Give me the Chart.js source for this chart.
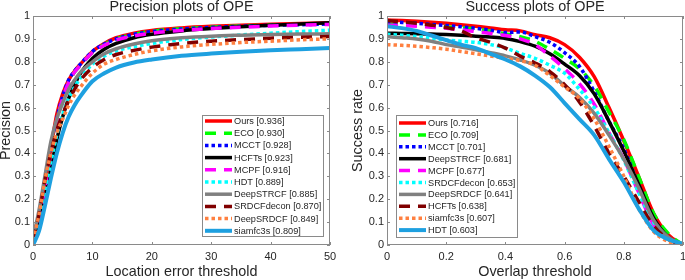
<!DOCTYPE html>
<html>
<head>
<meta charset="utf-8">
<title>OPE plots</title>
<script src="https://cdn.jsdelivr.net/npm/chart.js@4.4.1/dist/chart.umd.min.js"></script>
<style>
    html, body { margin: 0; padding: 0; background: #fff; }
    #wrap { position: relative; width: 685px; height: 280px; overflow: hidden; }
    .pane { position: absolute; top: 0; height: 280px; }
    #pane-prec { left: 0; width: 340px; }
    #pane-succ { left: 340px; width: 345px; }
</style>
</head>
<body>
<div id="wrap">
    <div class="pane" id="pane-prec"><canvas id="prec-chart"></canvas></div>
    <div class="pane" id="pane-succ"><canvas id="succ-chart"></canvas></div>
</div>
<script>
/* Precision / success plots of OPE */

var yTicks = [0, 0.1, 0.2, 0.3, 0.4, 0.5, 0.6, 0.7, 0.8, 0.9, 1];

/* ---- Precision plot (location error threshold, px) ---- */
var precXTicks = [0, 10, 20, 30, 40, 50];
var precX = [0, 1, 2, 3, 4, 5, 6, 7, 8, 10, 12, 14, 17, 20, 25, 30, 35, 40, 45, 50];
var precNames = ["Ours", "ECO", "MCCT", "HCFTs", "MCPF", "HDT", "DeepSTRCF", "SRDCFdecon", "DeepSRDCF", "siamfc3s"];
var precScores = [0.936, 0.930, 0.928, 0.923, 0.916, 0.889, 0.885, 0.870, 0.849, 0.809];
var precOurs       = [0.02, 0.12, 0.27, 0.42, 0.57, 0.66, 0.72, 0.76, 0.79, 0.845, 0.88, 0.905, 0.925, 0.937, 0.948, 0.955, 0.96, 0.964, 0.967, 0.97];
var precECO        = [0.02, 0.11, 0.25, 0.40, 0.54, 0.64, 0.71, 0.755, 0.785, 0.84, 0.875, 0.90, 0.92, 0.933, 0.944, 0.951, 0.956, 0.96, 0.963, 0.966];
var precMCCT       = [0.02, 0.11, 0.25, 0.40, 0.55, 0.65, 0.72, 0.76, 0.79, 0.845, 0.878, 0.90, 0.92, 0.932, 0.943, 0.95, 0.955, 0.959, 0.962, 0.965];
var precHCFTs      = [0.01, 0.09, 0.20, 0.33, 0.46, 0.56, 0.64, 0.70, 0.75, 0.815, 0.855, 0.88, 0.905, 0.92, 0.935, 0.945, 0.953, 0.96, 0.965, 0.97];
var precMCPF       = [0.02, 0.11, 0.25, 0.40, 0.54, 0.64, 0.71, 0.755, 0.785, 0.84, 0.872, 0.895, 0.913, 0.925, 0.937, 0.945, 0.951, 0.956, 0.96, 0.963];
var precHDT        = [0.02, 0.10, 0.23, 0.36, 0.48, 0.57, 0.64, 0.69, 0.73, 0.79, 0.825, 0.848, 0.866, 0.88, 0.897, 0.908, 0.917, 0.925, 0.932, 0.938];
var precDeepSTRCF  = [0.03, 0.15, 0.30, 0.45, 0.55, 0.62, 0.68, 0.72, 0.755, 0.80, 0.835, 0.857, 0.878, 0.892, 0.905, 0.912, 0.916, 0.919, 0.921, 0.922];
var precSRDCFdecon = [0.02, 0.13, 0.28, 0.40, 0.50, 0.57, 0.63, 0.68, 0.72, 0.775, 0.81, 0.832, 0.85, 0.864, 0.88, 0.89, 0.897, 0.903, 0.907, 0.91];
var precDeepSRDCF  = [0.02, 0.13, 0.28, 0.40, 0.49, 0.55, 0.61, 0.655, 0.69, 0.75, 0.79, 0.81, 0.832, 0.848, 0.865, 0.876, 0.884, 0.89, 0.896, 0.90];
var precSiamfc3s   = [0.00, 0.06, 0.17, 0.29, 0.40, 0.49, 0.56, 0.61, 0.65, 0.715, 0.75, 0.775, 0.797, 0.81, 0.826, 0.836, 0.844, 0.85, 0.855, 0.86];
var precSeries = [precOurs, precECO, precMCCT, precHCFTs, precMCPF, precHDT, precDeepSTRCF, precSRDCFdecon, precDeepSRDCF, precSiamfc3s];

/* ---- Success plot (overlap threshold) ---- */
var succXTicks = [0, 0.2, 0.4, 0.6, 0.8, 1];
var succX = [0, 0.05, 0.1, 0.15, 0.2, 0.25, 0.3, 0.35, 0.4, 0.45, 0.5, 0.55, 0.6, 0.65, 0.7, 0.75, 0.8, 0.85, 0.9, 0.95, 1];
var succNames = ["Ours", "ECO", "MCCT", "DeepSTRCF", "MCPF", "SRDCFdecon", "DeepSRDCF", "HCFTs", "siamfc3s", "HDT"];
var succScores = [0.716, 0.709, 0.701, 0.681, 0.677, 0.653, 0.641, 0.638, 0.607, 0.603];
var succOurs       = [0.982, 0.98, 0.977, 0.973, 0.968, 0.962, 0.955, 0.948, 0.94, 0.935, 0.918, 0.905, 0.875, 0.82, 0.735, 0.60, 0.455, 0.30, 0.14, 0.045, 0];
var succECO        = [0.965, 0.963, 0.96, 0.957, 0.953, 0.948, 0.942, 0.933, 0.922, 0.91, 0.89, 0.855, 0.815, 0.77, 0.695, 0.58, 0.46, 0.30, 0.14, 0.05, 0];
var succMCCT       = [0.975, 0.972, 0.968, 0.963, 0.958, 0.953, 0.946, 0.938, 0.928, 0.93, 0.91, 0.885, 0.84, 0.78, 0.67, 0.54, 0.42, 0.26, 0.11, 0.03, 0];
var succDeepSTRCF  = [0.925, 0.924, 0.923, 0.921, 0.919, 0.916, 0.912, 0.908, 0.902, 0.888, 0.868, 0.835, 0.79, 0.74, 0.66, 0.54, 0.41, 0.265, 0.12, 0.035, 0];
var succMCPF       = [0.96, 0.958, 0.955, 0.951, 0.946, 0.94, 0.932, 0.924, 0.915, 0.90, 0.875, 0.825, 0.77, 0.705, 0.615, 0.49, 0.375, 0.23, 0.09, 0.03, 0];
var succSRDCFdecon = [0.92, 0.916, 0.91, 0.903, 0.895, 0.89, 0.885, 0.875, 0.86, 0.837, 0.815, 0.785, 0.75, 0.68, 0.60, 0.49, 0.37, 0.23, 0.10, 0.03, 0];
var succDeepSRDCF  = [0.91, 0.905, 0.90, 0.89, 0.875, 0.865, 0.853, 0.84, 0.826, 0.808, 0.785, 0.75, 0.695, 0.645, 0.575, 0.48, 0.375, 0.25, 0.11, 0.035, 0];
var succHCFTs      = [0.98, 0.975, 0.968, 0.96, 0.95, 0.935, 0.905, 0.885, 0.86, 0.825, 0.795, 0.757, 0.70, 0.625, 0.52, 0.40, 0.30, 0.19, 0.085, 0.025, 0];
var succSiamfc3s   = [0.875, 0.872, 0.868, 0.862, 0.855, 0.845, 0.835, 0.825, 0.815, 0.805, 0.785, 0.74, 0.69, 0.64, 0.55, 0.43, 0.30, 0.16, 0.06, 0.015, 0];
var succHDT        = [0.955, 0.947, 0.935, 0.915, 0.895, 0.875, 0.86, 0.835, 0.81, 0.78, 0.74, 0.69, 0.62, 0.55, 0.48, 0.375, 0.275, 0.16, 0.065, 0.025, 0.005];
var succSeries = [succOurs, succECO, succMCCT, succDeepSTRCF, succMCPF, succSRDCFdecon, succDeepSRDCF, succHCFTs, succSiamfc3s, succHDT];

/* line styles by rank (same in both plots) */
var rankColors = ["#ff0000", "#00ff00", "#0000ff", "#000000", "#ff00ff", "#00ffff", "#808080", "#800000", "#ff8040", "#1ea0e0"];
var DASHED = [11, 8], DOTTED = [3.5, 3], SOLID = [];
var rankDashes = [SOLID, DASHED, DOTTED, SOLID, DASHED, DOTTED, SOLID, DASHED, DOTTED, SOLID];

var TEXT = "#262626";
var AXIS = "#8a8a8a";
var FONT = "'Liberation Sans', Arial, Helvetica, sans-serif";

Chart.defaults.font.family = FONT;
Chart.defaults.color = TEXT;

function fmtTick(v) {
    return String(Math.round(v * 10) / 10);
}

function buildDatasets(names, scores, xs, series) {
    return names.map(function (n, i) {
        return {
            label: n + " [" + scores[i].toFixed(3) + "]",
            data: xs.map(function (x, k) { return { x: x, y: series[i][k] }; }),
            borderColor: rankColors[i],
            borderDash: rankDashes[i],
            borderWidth: i === 9 ? 4 : 3.5,
            borderCapStyle: "butt",
            pointRadius: 0,
            fill: false,
            cubicInterpolationMode: "monotone",
            order: names.length - i
        };
    });
}

/* Matlab-style box, inward ticks, title and in-axes legend */
var matlabBox = {
    id: "matlabBox",
    afterDatasetsDraw: function (chart, args, opts) {
        var ctx = chart.ctx;
        var a = chart.chartArea;
        var xs = chart.scales.x, ys = chart.scales.y;
        ctx.save();

        ctx.strokeStyle = AXIS;
        ctx.lineWidth = 1;
        ctx.setLineDash([]);
        ctx.strokeRect(a.left + 0.5, a.top + 0.5, a.right - a.left - 1, a.bottom - a.top - 1);
        ctx.beginPath();
        xs.ticks.forEach(function (t) {
            var px = Math.round(xs.getPixelForValue(t.value)) + 0.5;
            ctx.moveTo(px, a.bottom); ctx.lineTo(px, a.bottom - 3);
            ctx.moveTo(px, a.top); ctx.lineTo(px, a.top + 3);
        });
        ys.ticks.forEach(function (t) {
            var py = Math.round(ys.getPixelForValue(t.value)) + 0.5;
            ctx.moveTo(a.left, py); ctx.lineTo(a.left + 3, py);
            ctx.moveTo(a.right, py); ctx.lineTo(a.right - 3, py);
        });
        ctx.stroke();

        /* title */
        ctx.fillStyle = TEXT;
        ctx.font = "14.4px " + FONT;
        ctx.textAlign = "center";
        ctx.textBaseline = "middle";
        ctx.fillText(opts.title, (a.left + a.right) / 2, 7);

        /* legend */
        var L = opts.legend;
        var bx = L.fromLeft ? a.left + L.x : a.right - L.x - L.w;
        var by = a.bottom - L.y - L.h;
        ctx.fillStyle = "#fff";
        ctx.fillRect(bx, by, L.w, L.h);
        ctx.strokeStyle = AXIS;
        ctx.strokeRect(Math.round(bx) + 0.5, Math.round(by) + 0.5, L.w, L.h);
        ctx.font = "9.2px " + FONT;
        ctx.textAlign = "left";
        chart.data.datasets.forEach(function (ds, i) {
            var ry = by + L.first + i * L.step;
            ctx.beginPath();
            ctx.strokeStyle = ds.borderColor;
            ctx.lineWidth = ds.borderWidth;
            ctx.setLineDash(ds.borderDash);
            ctx.moveTo(bx + 3, ry);
            ctx.lineTo(bx + 30, ry);
            ctx.stroke();
            ctx.setLineDash([]);
            ctx.fillStyle = TEXT;
            ctx.fillText(ds.label, bx + 32, ry + 0.5);
        });
        ctx.restore();
    }
};

function makeChart(canvasId, cfg) {
    return new Chart(document.getElementById(canvasId).getContext("2d"), {
        type: "line",
        data: { datasets: buildDatasets(cfg.names, cfg.scores, cfg.xs, cfg.series) },
        plugins: [matlabBox],
        options: {
            responsive: true,
            maintainAspectRatio: false,
            animation: false,
            layout: { padding: { top: 16, right: cfg.padRight, left: 0, bottom: 0 } },
            plugins: {
                legend: { display: false },
                tooltip: { enabled: false },
                matlabBox: { title: cfg.title, legend: cfg.legend }
            },
            scales: {
                x: {
                    type: "linear",
                    min: cfg.xTicks[0],
                    max: cfg.xTicks[cfg.xTicks.length - 1],
                    afterBuildTicks: function (s) {
                        s.ticks = cfg.xTicks.map(function (v) { return { value: v }; });
                    },
                    afterFit: function (s) {
                        s.height = 35;
                        s.paddingLeft = 0;
                        s.paddingRight = 0;
                    },
                    grid: { display: false, drawTicks: false },
                    border: { display: false },
                    ticks: {
                        color: TEXT,
                        font: { size: 11 },
                        padding: 5,
                        maxRotation: 0,
                        autoSkip: false,
                        callback: function (v) { return cfg.xFmt(v); }
                    },
                    title: {
                        display: true,
                        text: cfg.xLabel,
                        color: TEXT,
                        font: { size: 14.4, lineHeight: 1 },
                        padding: { top: 0, bottom: 1 }
                    }
                },
                y: {
                    min: 0,
                    max: 1,
                    afterBuildTicks: function (s) {
                        s.ticks = yTicks.map(function (v) { return { value: v }; });
                    },
                    afterFit: function (s) {
                        s.width = cfg.yWidth;
                        s.paddingTop = 0;
                        s.paddingBottom = 0;
                    },
                    grid: { display: false, drawTicks: false },
                    border: { display: false },
                    ticks: {
                        color: TEXT,
                        font: { size: 11 },
                        padding: 3,
                        autoSkip: false,
                        callback: function (v) { return fmtTick(v); }
                    },
                    title: {
                        display: true,
                        text: cfg.yLabel,
                        color: TEXT,
                        font: { size: 14.4, lineHeight: 1 },
                        padding: { top: cfg.yTitlePad, bottom: 0 }
                    }
                }
            }
        }
    });
}

makeChart("prec-chart", {
    names: precNames, scores: precScores, xs: precX, series: precSeries,
    xTicks: precXTicks, xFmt: function (v) { return String(v); },
    title: "Precision plots of OPE",
    xLabel: "Location error threshold", yLabel: "Precision",
    yWidth: 33, padRight: 10, yTitlePad: -1,
    legend: { fromLeft: false, x: 7, y: 9, w: 121, h: 121, first: 6, step: 12.2 }
});

makeChart("succ-chart", {
    names: succNames, scores: succScores, xs: succX, series: succSeries,
    xTicks: succXTicks, xFmt: fmtTick,
    title: "Success plots of OPE",
    xLabel: "Overlap threshold", yLabel: "Success rate",
    yWidth: 47, padRight: 2, yTitlePad: 11,
    legend: { fromLeft: true, x: 9, y: 8, w: 121, h: 122, first: 8, step: 11.9 }
});
</script>
</body>
</html>
